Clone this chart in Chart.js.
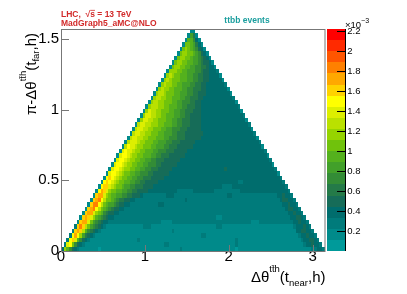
<!DOCTYPE html>
<html>
<head>
<meta charset="utf-8">
<script src="https://cdn.jsdelivr.net/npm/chart.js@4.4.0/dist/chart.umd.min.js"></script>
<style>
  body { margin: 0; background: #fff; }
</style>
</head>
<body>
<canvas id="myChart" width="407" height="294"></canvas>
<script>
var xMax = Math.PI;
var yMax = Math.PI / 2;
var nBinsX = 100;
var nBinsY = 50;
var xTicks = [0, 1, 2, 3];
var yTicks = [0, 0.5, 1, 1.5];
var zMax = 2.22;   // x10^-3
var zTicks = [0.2, 0.4, 0.6, 0.8, 1, 1.2, 1.4, 1.6, 1.8, 2, 2.2];
var zColors = ['#009a9a', '#008a8a', '#007b7b', '#006d6d', '#166c58', '#247a48',
               '#338c36', '#42a02a', '#54b11d', '#70c20c', '#96d400', '#bae100',
               '#ddef00', '#ffff00', '#ffd200', '#ffa800', '#ff8000', '#ff5500',
               '#ff2a00', '#ff0000'];

// one string per y bin (bottom first); row j starts at x bin j.
// each token is a colour level (bin content = (level+0.5)*zMax/20), "L*n" = n bins
var rows = [
  '3 10 8 6 4 3 2 1*7 0 1*30 2 1*20 0 1*28 2 2 3 3 2',
  '2 12 13 9 6 4 3 2 1*30 2*2 1*25 2 1*25 2 3 3 4 3 3 2',
  '2 13 14 12 8 6 4 3 2 1*18 2 1*36 2 1*24 2 3 3 4 4 3 2',
  '2 13 15 13 10 7 5 4 3 2 1*40 2*2 1*35 2 3 3 4 3 3 2',
  '2 14 15 14 11 8 6 5 4 3 2 1*27 2 1*46 3 3 4 4 3 3 2',
  '2 14 16 14 11 9 7 6 5 4 3 2 1*14 2*3 1*25 2*2 1*27 2 3 3 3 4 3 2',
  '1 14 15 15 12 9 7 6 5 4 3 3 2 2*19 1*4 2*30 1*3 2*13 3 3 4 3 3 2',
  '1 14 15 14 12 10 8 7 6 5 4 3 3 2*39 1*2 2*26 3 3 4 4 3 2',
  '1 14 15 15 12 10 9 8 6 5 4 4 3 3 2*64 3 3 4 3 3 2',
  '1 14 15 16 13 11 9 8 7 6 5 4 4 3 3 2*61 3 4 4 3 3 2',
  '1 14 16 16 13 11 9 8 7 7 6 5 4 4 3 3 2*11 3*2 2*45 3 3 4 3 3 2',
  '1 14 15 16 13 11 9 9 8 7 6 5 5 4 4 3 3 2*19 3 2*35 3 4 4 3 3 2',
  '1 14 15 15 12 10 9 8 8 7 7 6 6 5 5 4 4 4 3 2*9 3*3 2*20 3*2 2*17 3 3 4 3 3 2',
  '1 13 15 14 12 10 9 9 8 8 7 7 6 6 5 5 4 4 4 4 3 3*10 2*6 3*8 2*10 3*16 3 3 2',
  '1 13 14 14 12 11 10 9 9 8 7 7 6 6 5 5 5 4 4 4 4 3*26 2*4 3*19 3 2',
  '1 13 14 13 12 11 10 9 9 8 8 7 7 6 6 5 5 4 4 4 4 4 3*30 2*2 3*14 3 2',
  '1 13 14 13 12 11 10 9 9 8 8 7 7 6 6 5 5 5 4 4 4 4 4 3*44 2',
  '1 12 13 13 12 11 10 9 9 8 8 7 7 6 6 6 5 5 4 4 4 4 4 4 3*41 1',
  '1 12 13 13 12 11 10 10 9 9 8 8 7 7 6 6 5 5 5 4 4 4 4 4 3*20 4 3*18 2',
  '1 12 13 13 12 11 10 10 9 9 8 8 7 7 6 6 6 5 5 4 4 4 4 4 4 3*36 1',
  '1 12 13 13 12 11 10 10 9 9 8 8 7 7 6 6 5 5 5 4 4 4 4 4 4 3*34 2',
  '1 12 13 13 12 11 10 10 9 9 8 8 8 7 7 6 6 5 5 5 4 4 4 4 4 4 3*31 1',
  '1 12 13 12 12 11 10 10 9 9 8 8 8 7 7 6 6 6 5 5 5 4 4 4 4 4 3*29 2',
  '1 11 13 12 12 11 10 10 9 9 9 8 8 7 7 7 6 6 5 5 5 4 4 4 4 4 4 3*26 1',
  '1 11 12 12 12 11 10 10 9 9 9 8 8 7 7 7 6 6 5 5 5 4 4 4 4 4 4 3*24 2',
  '1 11 12 12 11 11 10 10 9 9 9 8 8 8 7 7 6 6 6 5 5 5 4 4 4 4 4 4 3*21 1',
  '1 11 12 12 11 11 10 10 9 9 9 8 8 7 7 7 6 6 5 5 5 4 4 4 4 4 4 4 3*19 2',
  '1 11 12 12 11 11 10 10 9 9 9 8 8 7 7 6 6 6 5 5 5 4 4 4 4 4 3 3 3*17 1',
  '1 11 12 12 11 11 10 10 10 9 9 8 8 8 7 7 6 6 5 5 5 4 4 4 4 3 3 3*16 2',
  '1 10 12 12 11 11 10 10 9 9 9 8 8 7 7 6 6 5 5 5 4 4 4 4 3 3 3*15 1',
  '1 10 12 12 11 11 10 10 9 9 8 8 8 7 7 6 6 5 5 4 4 4 4 3 3 3*14 2',
  '1 10 12 11 11 10 10 9 9 9 8 8 7 7 6 6 5 5 5 4 4 4 3 3 3*13 1',
  '1 10 11 11 11 10 10 9 9 8 8 8 7 7 6 6 5 5 5 4 4 3 3 3*12 2',
  '1 10 11 11 10 10 9 9 9 8 8 7 7 6 6 6 5 5 4 4 3 3 3*11 1',
  '1 10 11 11 10 10 9 9 8 8 8 7 7 6 6 5 5 5 4 4 3 3*10 2',
  '1 10 11 11 10 9 9 9 8 8 7 7 7 6 6 5 5 4 4 4 3*9 1',
  '1 10 11 10 10 9 9 8 8 8 7 7 6 6 5 5 5 4 4 3*8 1',
  '1 10 11 10 10 9 9 8 8 7 7 7 6 6 5 5 4 4 3*7 2',
  '1 10 11 10 9 9 9 8 8 8 7 7 6 6 5 5 4 4 3*5 1',
  '1 10 11 10 9 9 8 8 8 7 7 6 6 5 5 4 4 3*4 1',
  '1 10 10 10 9 9 8 8 7 7 7 6 6 5 4 4 3*3 2',
  '1 9 10 10 9 9 8 8 7 7 6 6 5 5 4 3*2 1',
  '1 9 10 10 9 9 8 8 7 7 6 5 4 4 3 1',
  '1 9 10 10 9 9 8 7 7 6 5 4 3 1',
  '1 9 10 10 9 9 8 7 6 4 3 1',
  '1 9 10 9 8 7 6 4 3 1',
  '1 9 9 8 7 5 3 1',
  '1 8 8 6 3 1',
  '1 7 5 1',
  '1 1'
];

var fontFam = '"Liberation Sans", Arial, Helvetica, sans-serif';
var zStep = zMax / zColors.length;

function cellsOf(row) {
  var out = [];
  row.split(' ').forEach(function (tok) {
    var p = tok.split('*');
    var n = p.length > 1 ? +p[1] : 1;
    for (var k = 0; k < n; k++) out.push((+p[0] + 0.5) * zStep);
  });
  return out;
}

// draws text pieces one after another, [text, size, dy, bold, overline]
function drawRich(ctx, segs, x, y, align, color) {
  var total = 0;
  segs.forEach(function (s) {
    ctx.font = (s[3] ? 'bold ' : '') + s[1] + 'px ' + fontFam;
    s.w = ctx.measureText(s[0]).width;
    total += s.w;
  });
  var cx = align == 'right' ? x - total : (align == 'center' ? x - total / 2 : x);
  ctx.fillStyle = color;
  ctx.strokeStyle = color;
  ctx.textAlign = 'left';
  ctx.textBaseline = 'alphabetic';
  segs.forEach(function (s) {
    ctx.font = (s[3] ? 'bold ' : '') + s[1] + 'px ' + fontFam;
    ctx.fillText(s[0], cx, y + s[2]);
    if (s[4]) {
      ctx.lineWidth = 0.8;
      ctx.beginPath();
      ctx.moveTo(cx, y + s[2] - s[1] * 0.78);
      ctx.lineTo(cx + s.w, y + s[2] - s[1] * 0.78);
      ctx.stroke();
    }
    cx += s.w;
  });
}

var th2Plugin = {
  id: 'th2',
  beforeDatasetsDraw: function (chart) {
    var ctx = chart.ctx, xs = chart.scales.x, ys = chart.scales.y;
    var dx = xMax / nBinsX, dy = yMax / nBinsY;
    ctx.save();
    rows.forEach(function (row, j) {
      var y0 = Math.round(ys.getPixelForValue((j + 1) * dy));
      var y1 = Math.round(ys.getPixelForValue(j * dy));
      var cells = cellsOf(row);
      if (cells.length != nBinsX - 2 * j) console.warn('row', j, cells.length);
      cells.forEach(function (v, k) {
        var i = j + k;
        var x0 = Math.round(xs.getPixelForValue(i * dx));
        var x1 = Math.round(xs.getPixelForValue((i + 1) * dx));
        var lev = Math.min(zColors.length - 1, Math.floor(v / zStep));
        ctx.fillStyle = zColors[lev];
        ctx.fillRect(x0, y0, x1 - x0, y1 - y0);
      });
    });
    ctx.restore();
  },
  afterDraw: function (chart) {
    var ctx = chart.ctx, a = chart.chartArea;
    var xs = chart.scales.x, ys = chart.scales.y, zs = chart.scales.z;
    ctx.save();

    // frame and inside ticks
    ctx.strokeStyle = '#777';
    ctx.lineWidth = 1;
    ctx.strokeRect(a.left + 0.5, a.top + 0.5, a.right - a.left, a.bottom - a.top);
    ctx.beginPath();
    yTicks.forEach(function (v) {
      if (v == 0) return;
      var py = Math.round(ys.getPixelForValue(v)) + 0.5;
      ctx.moveTo(a.left, py);
      ctx.lineTo(a.left + 8, py);
    });
    xTicks.forEach(function (v) {
      if (v == 0) return;
      var px = Math.round(xs.getPixelForValue(v)) + 0.5;
      ctx.moveTo(px, a.bottom);
      ctx.lineTo(px, a.bottom - 6);
    });
    ctx.stroke();

    // colour palette
    var pl = a.right + 2.5, pr = a.right + 21.5;
    zColors.forEach(function (c, k) {
      var t = Math.round(zs.getPixelForValue((k + 1) * zStep));
      var b = Math.round(zs.getPixelForValue(k * zStep));
      ctx.fillStyle = c;
      ctx.fillRect(Math.round(pl), t, Math.round(pr) - Math.round(pl), b - t);
    });
    ctx.strokeStyle = '#000';
    ctx.beginPath();
    ctx.moveTo(Math.round(pr) - 0.5, zs.top);
    ctx.lineTo(Math.round(pr) - 0.5, zs.bottom);
    zTicks.forEach(function (v) {
      var py = Math.round(zs.getPixelForValue(v)) + 0.5;
      ctx.moveTo(Math.round(pr), py);
      ctx.lineTo(Math.round(pr) - 9, py);
    });
    ctx.stroke();
    drawRich(ctx, [['\u00d710', 9.5, 0], ['\u22123', 7, -5]], a.right + 20.5, 28, 'left', '#000');

    // labels
    drawRich(ctx, [['LHC,  \u221a', 8.5, 0, true], ['s', 8.5, 0, true, true], [' = 13 TeV', 8.5, 0, true]],
      a.left, 17, 'left', '#d22a2a');
    drawRich(ctx, [['MadGraph5_aMC@NLO', 8.5, 0, true]], a.left, 26, 'left', '#d22a2a');
    drawRich(ctx, [['ttbb events', 8.5, 0, true]], 247, 23, 'center', '#1a9e9e');

    // axis titles
    var tSeg = ['t', 't\u0304', 'h'].join('');
    drawRich(ctx, [['\u0394\u03b8', 15, 0], [tSeg, 9.5, -10], ['(t', 15, 0], ['near', 9.5, 4], [',h)', 15, 0]],
      a.right + 1, 282, 'right', '#000');
    ctx.translate(36, a.top + 4);
    ctx.rotate(-Math.PI / 2);
    drawRich(ctx, [['\u03c0-\u0394\u03b8', 15, 0], [tSeg, 9.5, -10], ['(t', 15, 0], ['far', 9.5, 3], [',h)', 15, 0]],
      0, 0, 'right', '#000');
    ctx.restore();
  }
};

var tickFont = { family: fontFam, size: 15, lineHeight: 0.74 };

new Chart(document.getElementById('myChart'), {
  type: 'scatter',
  data: { datasets: [{ data: [] }] },
  options: {
    responsive: false,
    animation: false,
    layout: { padding: { top: 29, left: 0, right: 0, bottom: 0 } },
    plugins: { legend: { display: false }, tooltip: { enabled: false } },
    scales: {
      x: {
        type: 'linear', min: 0, max: xMax,
        grid: { display: false, drawTicks: false }, border: { display: false },
        afterBuildTicks: function (s) { s.ticks = xTicks.map(function (v) { return { value: v }; }); },
        afterFit: function (s) { s.height = 43; },
        ticks: { font: tickFont, color: '#000', padding: 0, autoSkip: false, maxRotation: 0,
                 callback: function (v) { return String(v); } }
      },
      y: {
        type: 'linear', min: 0, max: yMax,
        grid: { display: false, drawTicks: false }, border: { display: false },
        afterBuildTicks: function (s) { s.ticks = yTicks.map(function (v) { return { value: v }; }); },
        afterFit: function (s) { s.width = 61; },
        ticks: { font: tickFont, color: '#000', padding: 2, autoSkip: false,
                 callback: function (v) { return String(v); } }
      },
      z: {
        type: 'linear', axis: 'y', position: 'right', min: 0, max: zMax,
        grid: { display: false, drawTicks: false }, border: { display: false },
        afterBuildTicks: function (s) { s.ticks = zTicks.map(function (v) { return { value: v }; }); },
        afterFit: function (s) { s.width = 82.5; },
        ticks: { font: { family: fontFam, size: 9.5 }, color: '#000', padding: 22.8, autoSkip: false,
                 callback: function (v) { return String(v); } }
      }
    }
  },
  plugins: [th2Plugin]
});
</script>
</body>
</html>
